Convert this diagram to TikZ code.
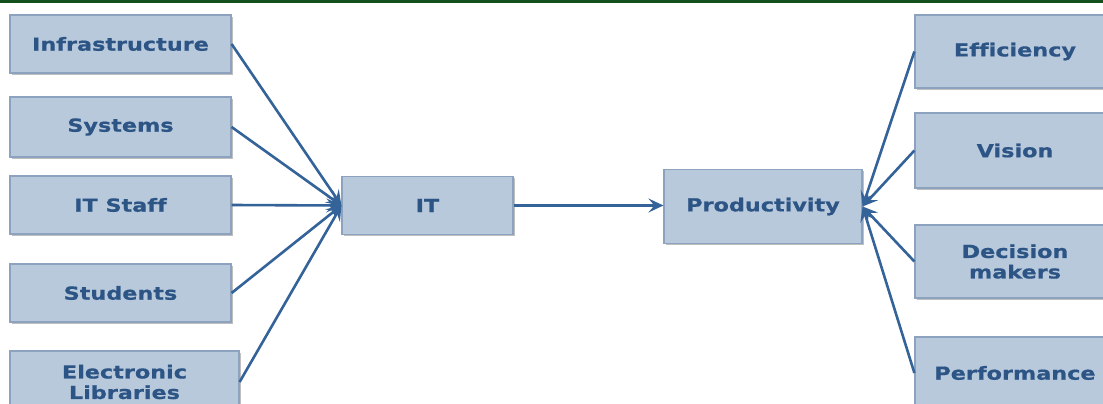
\documentclass[tikz,border=0pt]{standalone}
\usepackage{fontspec}
\usetikzlibrary{arrows.meta,shadows}
\newfontfamily\lblfont[FakeStretch=1.24, FakeBold=0.7, Ligatures=NoCommon]{DejaVu Sans}
\definecolor{boxfill}{HTML}{B9C9DC}
\definecolor{boxline}{HTML}{8CA2BF}
\definecolor{lbl}{HTML}{2C5586}
\definecolor{link}{HTML}{34639A}
\definecolor{topbar}{HTML}{14501C}
\tikzset{
  box/.style={rectangle, fill=boxfill, draw=boxline, line width=1.2pt,
    inner sep=0pt, align=center, text=lbl,
    font=\lblfont\bfseries\fontsize{18}{20.5}\selectfont,
    drop shadow={shadow xshift=1.8pt, shadow yshift=-1.8pt, fill=black, opacity=0.25}},
  link/.style={draw=link, line width=2.6pt,
    -{Stealth[length=15pt, width=14pt, inset=6pt]}}
}
\begin{document}
\begin{tikzpicture}[x=1pt, y=-1pt]
  \useasboundingbox (0,0) rectangle (1103,404);
  \clip (0,0) rectangle (1103,404);
  \fill[white] (0,0) rectangle (1103,404);
  \fill[topbar] (0,0) rectangle (1103,3);

  % inputs on the left
  \node[box, minimum width=221pt, minimum height=58pt] (infra) at (120.5,44) {Infrastructure};
  \node[box, minimum width=221pt, minimum height=60pt] (sys)   at (120.5,127) {Systems};
  \node[box, minimum width=221pt, minimum height=58pt] (staff) at (120.5,205) {IT Staff};
  \node[box, minimum width=221pt, minimum height=58pt] (stud)  at (120.5,293) {Students};
  \node[box, minimum width=229pt, minimum height=62pt] (elib)  at (124.5,382) {Electronic\\Libraries};

  % central chain
  \node[box, minimum width=171pt, minimum height=58pt] (it)   at (427.5,205.5) {IT};
  \node[box, minimum width=198pt, minimum height=74pt] (prod) at (763,206.5) {Productivity};

  % outcomes on the right
  \node[box, minimum width=200pt, minimum height=73pt] (eff)  at (1015,51.5) {Efficiency};
  \node[box, minimum width=200pt, minimum height=75pt] (vis)  at (1015,150.5) {Vision};
  \node[box, minimum width=200pt, minimum height=73pt] (dec)  at (1015,261.5) {Decision\\makers};
  \node[box, minimum width=200pt, minimum height=72pt] (perf) at (1015,373) {Performance};

  % connectors into IT
  \foreach \src in {infra,sys,staff,stud,elib}
    \draw[link] (\src.east) -- (it.west);
  \draw[link] (it.east) -- (it.east -| prod.west);
  % connectors into Productivity
  \foreach \src in {eff,vis,dec,perf}
    \draw[link] (\src.west) -- (prod.east);
\end{tikzpicture}
\end{document}
